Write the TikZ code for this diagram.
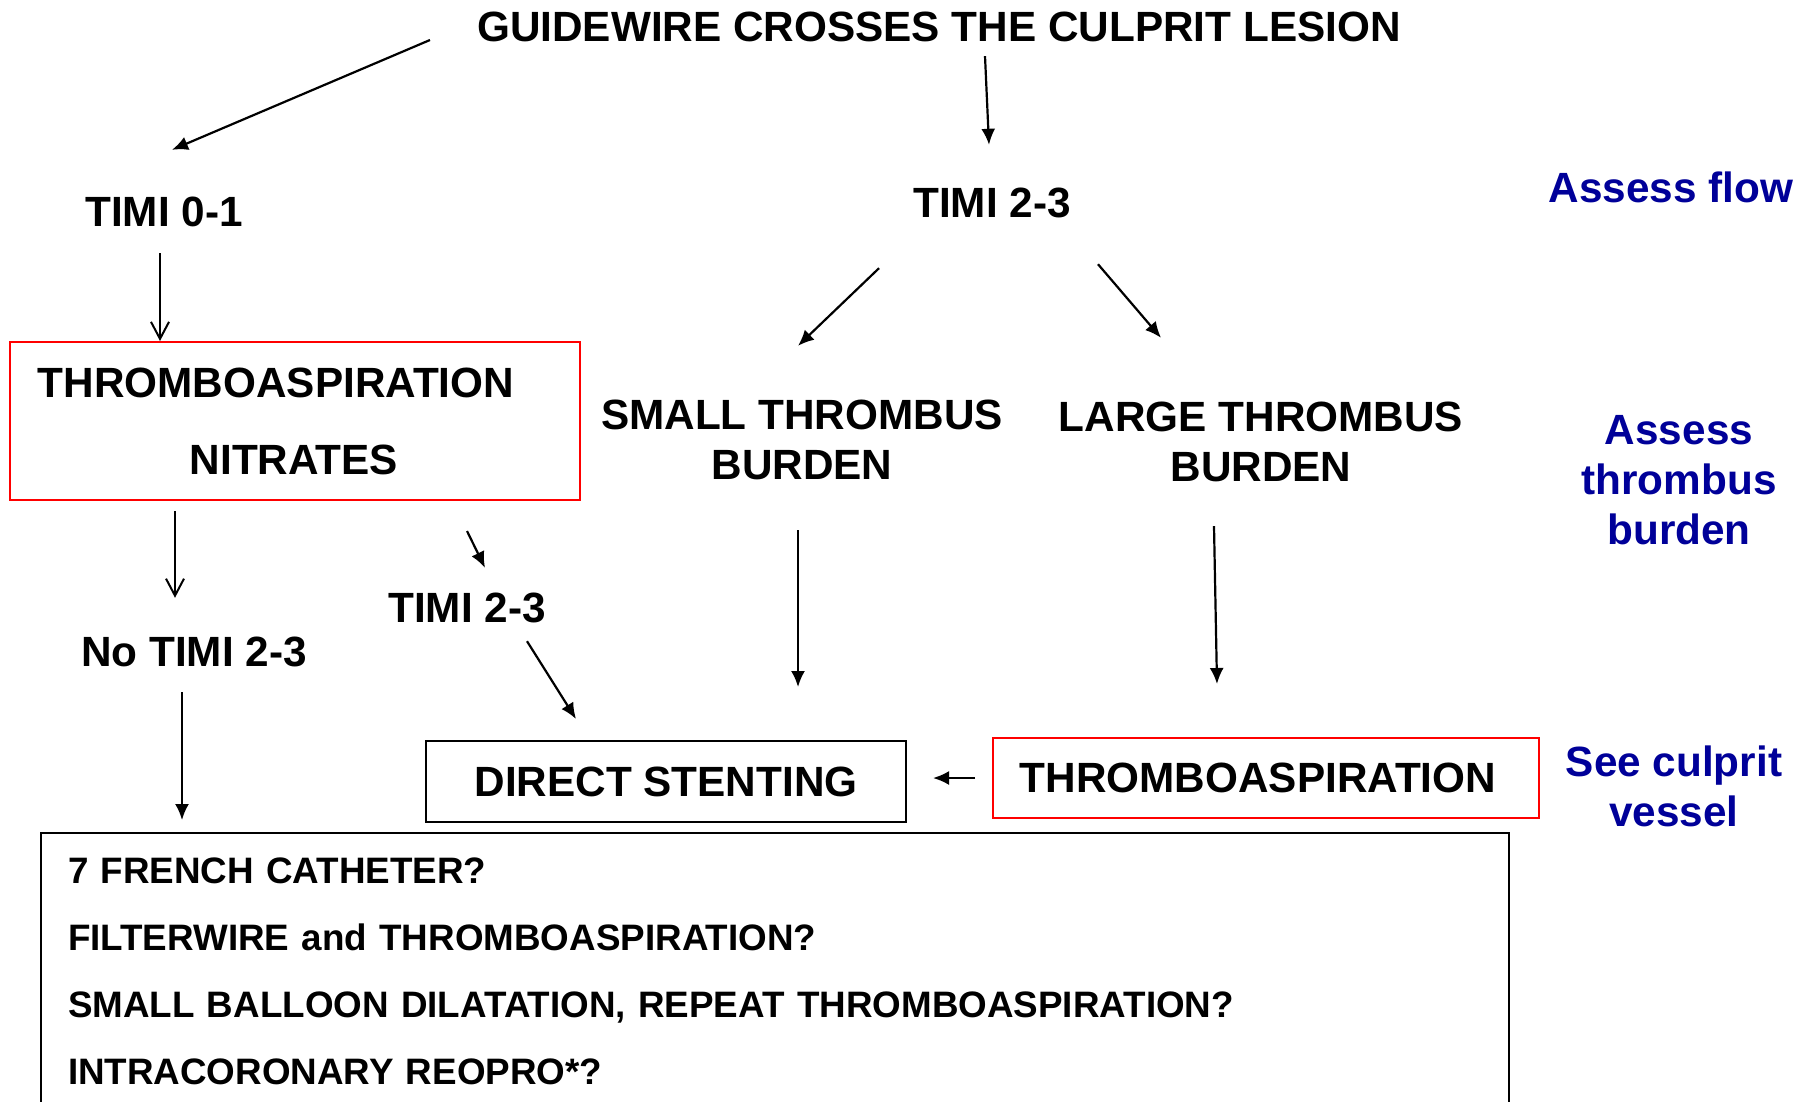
\documentclass[tikz,border=0pt]{standalone}
\usepackage{fontspec}
\setmainfont{Liberation Sans}
\usetikzlibrary{arrows.meta}
\colorlet{aspirc}{red}
\definecolor{notec}{RGB}{0,0,153}

\tikzset{
  flowtext/.style={font=\bfseries\fontsize{42.3}{50}\selectfont, inner sep=0pt, align=center},
  notetext/.style={flowtext, text=notec},
  listtext/.style={font=\bfseries\fontsize{36.8}{67}\selectfont},
  redframe/.style={draw=aspirc, line width=2pt},
  plainframe/.style={draw=black, line width=2pt},
  arr/.style={-{Latex[length=16pt,width=14pt]}, line width=2.2pt},
  openarr/.style={-{Straight Barb[length=17pt,width=18pt]}, line width=2pt}
}

\begin{document}
\begin{tikzpicture}[x=1pt, y=-1pt]
\path[use as bounding box, fill=white] (0,0) rectangle (1806,1102);
\clip (0,0) rectangle (1806,1102);

\node[flowtext] (guide) at (939,27) {GUIDEWIRE CROSSES THE CULPRIT LESION};
\node[flowtext] (timilow) at (164,212) {TIMI 0-1};
\node[flowtext] (timihigh) at (992,203) {TIMI 2-3};
\node[notetext] (flow) at (1671,187) {Assess flow};

\node[redframe, minimum width=570, minimum height=158] (nitrbox) at (295,421) {};
\node[flowtext] (aspir) at (276,383) {THROMBOASPIRATION};
\node[flowtext] (nitr) at (294,460) {NITRATES};

\node[flowtext] (small) at (802,440) {SMALL THROMBUS\\BURDEN};
\node[flowtext] (large) at (1261,442) {LARGE THROMBUS\\BURDEN};
\node[notetext] (burden) at (1679,480) {Assess\\thrombus\\burden};

\node[flowtext] (timiafter) at (467,608) {TIMI 2-3};
\node[flowtext] (notimi) at (194,652) {No TIMI 2-3};

\node[flowtext, plainframe, minimum width=480, minimum height=81] (stent) at (666,781.5) {DIRECT STENTING};
\node[flowtext, redframe, minimum width=546, minimum height=80] (aspirbox) at (1266,778) {THROMBOASPIRATION\kern16pt};
\node[notetext] (vessel) at (1674,786) {See culprit\\vessel};

\node[listtext, plainframe, anchor=north west, minimum height=276, text width=1414, inner xsep=27, align=left] (options) at (40,832) {7 FRENCH CATHETER?\\FILTERWIRE and THROMBOASPIRATION?\\SMALL BALLOON DILATATION, REPEAT THROMBOASPIRATION?\\INTRACORONARY REOPRO*?};

\draw[arr] ([shift={(-47,13)}]guide.west) -- ([shift={(8,-47)}]timilow.north);
\draw[arr] ([shift={(46,14)}]guide.south) -- ([shift={(-3,-43)}]timihigh.north);
\draw[openarr] ([shift={(-4,26)}]timilow.south) -- ([shift={(-135,0)}]nitrbox.north);
\draw[openarr] ([shift={(-120,10)}]nitrbox.south) -- ([shift={(-19,-39)}]notimi.north);
\draw[arr] ([shift={(-114,30)}]nitrbox.south east) -- ([shift={(18,-25)}]timiafter.north);
\draw[arr] ([shift={(60,18)}]timiafter.south) -- ([shift={(-90,-21)}]stent.north);
\draw[arr] ([shift={(-12,25)}]notimi.south) -- ([shift={(142,-12)}]options.north west);
\draw[arr] ([shift={(-113,50)}]timihigh.south) -- ([shift={(-4,-54)}]small.north);
\draw[arr] ([shift={(106,46)}]timihigh.south) -- ([shift={(-100,-64)}]large.north);
\draw[arr] ([shift={(-4,50)}]small.south) -- ([shift={(132,-53)}]stent.north);
\draw[arr] ([shift={(-47,44)}]large.south) -- ([shift={(-49,-53)}]aspirbox.north);
\draw[arr] ([shift={(-17,0)}]aspirbox.west) -- ([shift={(26,-3.5)}]stent.east);
\end{tikzpicture}
\end{document}
